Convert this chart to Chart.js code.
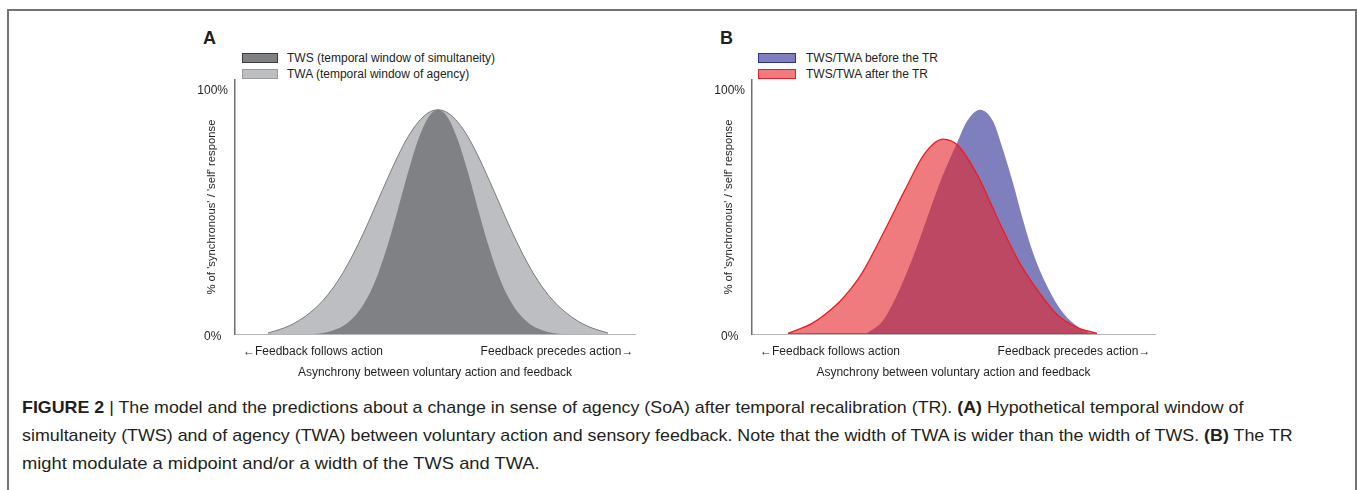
<!DOCTYPE html>
<html>
<head>
<meta charset="utf-8">
<script src="https://cdn.jsdelivr.net/npm/chart.js@4/dist/chart.umd.min.js"></script>
<style>
  html, body { margin: 0; padding: 0; background: #fff; overflow: hidden; }
  body { width: 1357px; height: 490px; position: relative; font-family: "Liberation Sans", Arial, sans-serif; color: #231f20; }
  .frame { position: absolute; left: 7px; top: 9px; width: 1346px; height: 600px; border: 2px solid #737373; }
  .panel-letter { position: absolute; font-weight: bold; font-size: 18px; line-height: 18px; }
  .leg { position: absolute; font-size: 12px; line-height: 14px; white-space: nowrap; }
  .box { position: absolute; box-sizing: border-box; }
  canvas { position: absolute; }
  .cap { position: absolute; left: 22px; font-family: "Liberation Sans", Arial, sans-serif; font-size: 17px; line-height: 20px; color: #231f20; white-space: nowrap; transform-origin: 0 50%; }
</style>
</head>
<body>
<div class="frame"></div>

<div class="panel-letter" style="left:203px; top:29px;">A</div>
<div class="box" style="left:242px; top:53px; width:36px; height:10px; background:#808184; border:1px solid #3c3c3c;"></div>
<div class="leg" style="left:287px; top:51px;">TWS (temporal window of simultaneity)</div>
<div class="box" style="left:242px; top:69px; width:36px; height:10px; background:#bdbec2; border:1px solid #9a9a9a;"></div>
<div class="leg" style="left:287px; top:67px;">TWA (temporal window of agency)</div>

<div class="panel-letter" style="left:720px; top:29px;">B</div>
<div class="box" style="left:758px; top:53px; width:38px; height:10px; background:#7f7fbd; border:1px solid #2e3192;"></div>
<div class="leg" style="left:806px; top:51px;">TWS/TWA before the TR</div>
<div class="box" style="left:758px; top:69px; width:38px; height:10px; background:#f27b7d; border:1px solid #ed1c24;"></div>
<div class="leg" style="left:806px; top:67px;">TWS/TWA after the TR</div>

<canvas id="chartA" width="500" height="318" style="left:150px; top:66px;"></canvas>
<canvas id="chartB" width="503" height="318" style="left:667px; top:66px;"></canvas>

<div class="cap" data-w="1221" style="top:398px;"><b>FIGURE 2</b> | The model and the predictions about a change in sense of agency (SoA) after temporal recalibration (TR). <b>(A)</b> Hypothetical temporal window of</div>
<div class="cap" data-w="1271" style="top:426px;">simultaneity (TWS) and of agency (TWA) between voluntary action and sensory feedback. Note that the width of TWA is wider than the width of TWS. <b>(B)</b> The TR</div>
<div class="cap" data-w="518" style="top:454px;">might modulate a midpoint and/or a width of the TWS and TWA.</div>

<script>
// axis labels
const yTickValues = [0, 100];
const xTickValues = [78, 322];
const xTickLabels = ["\u2190Feedback follows action", "Feedback precedes action\u2192"];
const xTitle = "Asynchrony between voluntary action and feedback";
const yTitle = "% of 'synchronous' / 'self' response";

// panel A: asynchrony position (axis units) and % response
const asyncA = [33, 43, 53, 63, 73, 83, 93, 103, 113, 123, 133, 143, 153, 163, 173, 183, 193, 203,
                213, 223, 233, 243, 253, 263, 273, 283, 293, 303, 313, 323, 333, 343, 353, 363, 373];
const twsA = [0, 0, 0, 0, 0, 0.1, 0.8, 2.2, 4.7, 8.8, 15.2, 24.4, 36.5, 50.7, 65.5, 78.6, 87.7, 91,
              87.7, 78.6, 65.5, 50.7, 36.5, 24.4, 15.2, 8.8, 4.7, 2.2, 0.8, 0.1, 0, 0, 0, 0, 0];
const twaA = [0.4, 1.6, 3.1, 5.2, 8, 11.5, 16, 21.6, 28.4, 36.3, 45, 54.3, 63.5, 72.3, 80, 85.9, 89.7, 91,
              89.7, 85.9, 80, 72.3, 63.5, 54.3, 45, 36.3, 28.4, 21.6, 16, 11.5, 8, 5.2, 3.1, 1.6, 0.4];

// panel B
const beforeX = [115, 131, 148, 165, 178, 191, 205, 215, 228, 241, 251, 261, 271, 281, 295, 311, 328, 338];
const beforeY = [0.3, 5.5, 18.5, 35.5, 50.4, 64.6, 77.5, 86.3, 91, 86.3, 74.8, 61.3, 46.3, 33, 19.5, 8.6, 2.3, 0.2];
const afterX = [36, 60, 86, 98, 110, 133, 153, 173, 191, 206, 226, 246, 266, 286, 306, 326, 345];
const afterY = [0.3, 4.3, 12.5, 17.9, 24.7, 42.3, 58.5, 73.4, 79.1, 76.5, 64, 46.5, 30, 17.5, 7.5, 2.5, 0.3];

Chart.defaults.font.family = '"Liberation Sans", Arial, sans-serif';
Chart.defaults.color = '#231f20';

function pts(xs, ys) {
    return xs.map((x, i) => ({ x: x, y: ys[i] }));
}

function makeOptions(xMax) {
    return {
        responsive: false,
        animation: false,
        devicePixelRatio: 1,
        layout: { padding: { top: 0, right: 15, left: 45, bottom: 0 } },
        plugins: { legend: { display: false }, tooltip: { enabled: false } },
        elements: { point: { radius: 0 } },
        scales: {
            x: {
                type: "linear",
                min: 0,
                max: xMax,
                afterBuildTicks: s => { s.ticks = xTickValues.map(v => ({ value: v })); },
                afterFit: s => { s.height = 50; },
                grid: { display: false, drawTicks: false },
                border: { color: "#b5b5b5", width: 1 },
                ticks: {
                    autoSkip: false,
                    maxRotation: 0,
                    padding: 10,
                    font: { size: 12 },
                    callback: (v, i) => xTickLabels[i]
                },
                title: { display: true, text: xTitle, font: { size: 12 }, padding: { top: 4, bottom: 4 } }
            },
            y: {
                min: 0,
                max: 103,
                afterBuildTicks: s => { s.ticks = yTickValues.map(v => ({ value: v })); },
                afterFit: s => { s.width = 40; },
                grid: { display: false, drawTicks: false },
                border: { color: "#6d6e71", width: 1.5 },
                ticks: {
                    padding: 7,
                    crossAlign: "center",
                    labelOffset: 3,
                    font: { size: 12 },
                    callback: v => v + "%"
                },
                title: { display: true, text: yTitle, font: { size: 11.3 }, padding: { top: 10, bottom: 4 } }
            }
        }
    };
}

// A
new Chart(document.getElementById("chartA").getContext("2d"), {
    type: "line",
    data: {
        datasets: [{
            label: "TWS (temporal window of simultaneity)",
            data: pts(asyncA, twsA),
            backgroundColor: "#808184",
            borderWidth: 0,
            fill: "origin",
            cubicInterpolationMode: "monotone"
        }, {
            label: "TWA (temporal window of agency)",
            data: pts(asyncA, twaA),
            backgroundColor: "#bdbec2",
            borderColor: "#7b7c80",
            borderWidth: 1,
            fill: "origin",
            cubicInterpolationMode: "monotone"
        }]
    },
    options: makeOptions(400)
});

// B
new Chart(document.getElementById("chartB").getContext("2d"), {
    type: "line",
    data: {
        datasets: [{
            label: "TWS/TWA before the TR",
            data: pts(beforeX, beforeY),
            backgroundColor: "#7f7fbd",
            borderWidth: 0,
            fill: "origin",
            order: 2,
            cubicInterpolationMode: "monotone"
        }, {
            label: "TWS/TWA after the TR",
            data: pts(afterX, afterY),
            backgroundColor: "rgba(230, 35, 40, 0.6)",
            borderColor: "#ed1c24",
            borderWidth: 1.3,
            fill: "origin",
            order: 1,
            cubicInterpolationMode: "monotone"
        }, {
            label: "after baseline",
            data: [{ x: afterX[0], y: 0 }, { x: afterX[afterX.length - 1], y: 0 }],
            borderColor: "#ed1c24",
            borderWidth: 1.5,
            fill: false,
            order: 0
        }]
    },
    options: makeOptions(403)
});

// caption lines are set in a narrow face in the original: squeeze each line to its width
document.querySelectorAll(".cap").forEach(el => {
    const w = el.scrollWidth;
    el.style.transform = "scaleX(" + (Number(el.dataset.w) / w) + ")";
});
</script>
</body>
</html>
